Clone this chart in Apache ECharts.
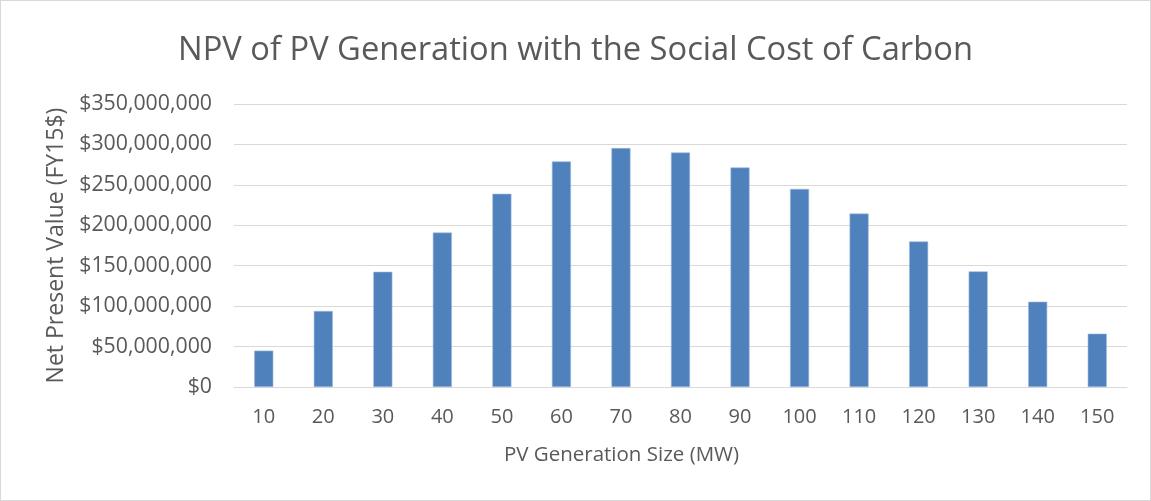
<!DOCTYPE html>
<html>
<head>
<meta charset="utf-8">
<script src="https://cdn.jsdelivr.net/npm/echarts@6/dist/echarts.min.js"></script>
<style>
  html, body { margin: 0; padding: 0; background: #fff; }
  #chart { width: 1149px; height: 499px; border: 1px solid #d9d9d9; }
</style>
</head>
<body>
<div id="chart"></div>
<script>
  // PV size (MW)
  const sizes = ['10', '20', '30', '40', '50', '60', '70', '80', '90', '100', '110', '120', '130', '140', '150'];
  // NPV with social cost of carbon (FY15$)
  const npv = [45000000, 94000000, 142500000, 191000000, 239000000, 279000000, 295500000, 290000000,
               271500000, 245000000, 214500000, 180000000, 143000000, 105500000, 66000000];

  const fmt = v => '$' + v.toString().replace(/\B(?=(\d{3})+(?!\d))/g, ',');

  let myChart = echarts.init(document.getElementById('chart'));
  myChart.setOption({
    animation: false,
    textStyle: { fontFamily: 'Open Sans', color: '#595959' },
    title: {
      text: 'NPV of PV Generation with the Social Cost of Carbon',
      left: 'center',
      top: 28,
      textStyle: { fontSize: 32.7, fontWeight: 'normal', color: '#595959', fontFamily: 'Open Sans' }
    },
    grid: { left: 233, right: 23, top: 103, bottom: 113 },
    xAxis: {
      type: 'category',
      data: sizes,
      name: 'PV Generation Size (MW)',
      nameLocation: 'middle',
      nameGap: 58,
      nameTextStyle: { fontSize: 20.5, color: '#595959', padding: [0, 118, 0, 0] },
      axisTick: { show: false },
      axisLine: { lineStyle: { color: '#d9d9d9', width: 1 } },
      axisLabel: { fontSize: 20, color: '#595959', margin: 20 }
    },
    yAxis: {
      type: 'value',
      min: 0,
      max: 350000000,
      interval: 50000000,
      name: 'Net Present Value (FY15$)',
      nameLocation: 'middle',
      nameGap: 163,
      nameTextStyle: { fontSize: 23, color: '#595959' },
      axisLine: { show: false },
      axisTick: { show: false },
      splitLine: { lineStyle: { color: '#d9d9d9', width: 1 } },
      axisLabel: { fontSize: 21.3, color: '#595959', margin: 22, formatter: fmt }
    },
    series: [{
      type: 'bar',
      data: npv,
      barWidth: '32%',
      itemStyle: { color: '#4f81bd', borderColor: '#9fb9dc', borderWidth: 0.6 }
    }]
  });
</script>
</body>
</html>
